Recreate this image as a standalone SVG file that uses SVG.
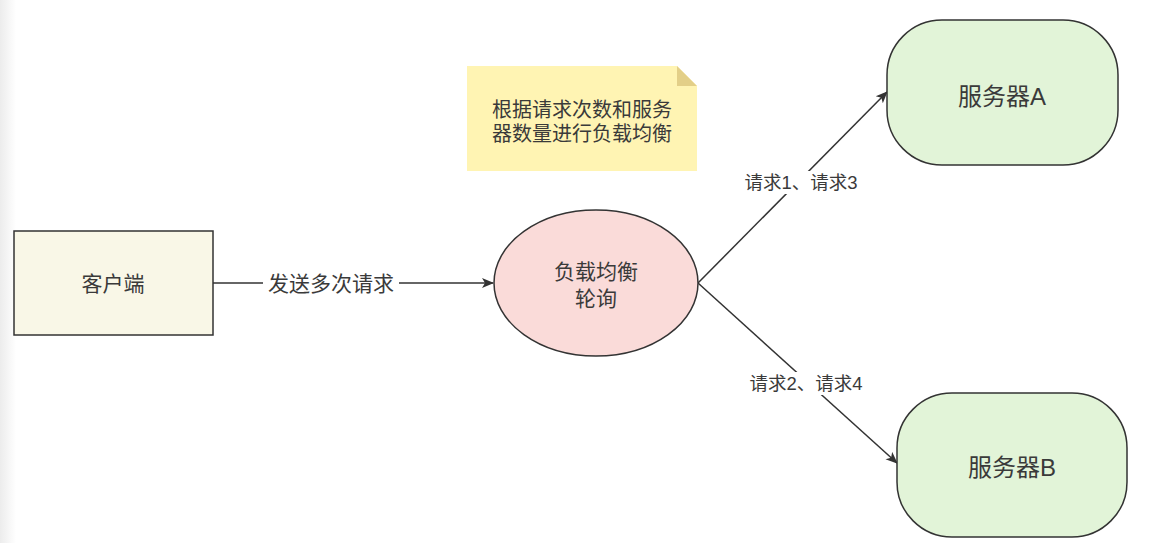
<svg xmlns="http://www.w3.org/2000/svg" width="1150" height="543" viewBox="0 0 1150 543">
<defs>
<linearGradient id="lg" x1="0" x2="1" y1="0" y2="0"><stop offset="0" stop-color="#ececec"/><stop offset="1" stop-color="#ffffff"/></linearGradient>
<marker id="arr" markerWidth="12" markerHeight="12" refX="11" refY="6" orient="auto" markerUnits="userSpaceOnUse" viewBox="0 0 12 12">
<path d="M0,1 L12,6 L0,11 L3,6 Z" fill="#333"/>
</marker>
<style>
text{font-family:"Liberation Sans","Noto Sans CJK SC",sans-serif;fill:#3a3a3a;text-anchor:middle;dominant-baseline:central}
.s{stroke:#333;stroke-width:1.5}
.c{stroke:#333;stroke-width:1.5;fill:none;marker-end:url(#arr)}
.f21{font-size:21px}
.f20{font-size:20px}
.f19{font-size:18.5px}
.f24{font-size:24px}
.lb{fill:#fff}
</style>
</defs>
<rect width="1150" height="543" fill="#fff"/>
<rect width="16" height="543" fill="url(#lg)"/>
<g id="note">
<path d="M467,66 H677 L697,86 V171 H467 Z" fill="#fff4b3"/>
<path d="M677,66 L697,86 H677 Z" fill="#e3cf88"/>
<text class="f20" x="582" y="110"><tspan x="582" y="110">根据请求次数和服务</tspan><tspan x="582" y="134">器数量进行负载均衡</tspan></text>
</g>
<g id="connectors">
<line class="c" x1="213" y1="283" x2="493" y2="283"/>
<rect class="lb" x="263" y="270" width="136" height="26"/>
<text class="f21" x="331" y="283">发送多次请求</text>
<line class="c" x1="698" y1="283" x2="887" y2="92"/>
<rect class="lb" x="742" y="171" width="118" height="23"/>
<text class="f19" x="801" y="182">请求1、请求3</text>
<line class="c" x1="698" y1="283" x2="897" y2="463"/>
<rect class="lb" x="745" y="372" width="122" height="23"/>
<text class="f19" x="806" y="383">请求2、请求4</text>
</g>
<g id="client">
<rect class="s" x="14" y="231" width="199" height="104" fill="#f9f7e7"/>
<text class="f21" x="113" y="283">客户端</text>
</g>
<g id="lb">
<ellipse class="s" cx="596" cy="283" rx="102" ry="73" fill="#fadbd9"/>
<text class="f21" x="596" y="271"><tspan x="596" y="271">负载均衡</tspan><tspan x="596" y="298">轮询</tspan></text>
</g>
<g id="serverA">
<rect class="s" x="887" y="20" width="231" height="145" rx="55" ry="55" fill="#e2f4d8"/>
<text class="f24" x="1002" y="96">服务器A</text>
</g>
<g id="serverB">
<rect class="s" x="897" y="393" width="230" height="144" rx="55" ry="55" fill="#e2f4d8"/>
<text class="f24" x="1012" y="467">服务器B</text>
</g>
</svg>
